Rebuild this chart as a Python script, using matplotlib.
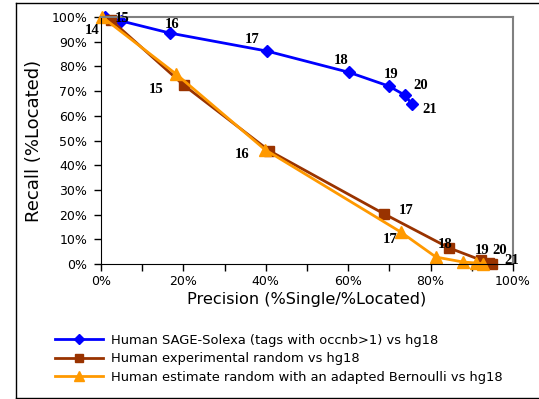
import matplotlib
matplotlib.use("Agg")
import matplotlib.pyplot as plt
from matplotlib.ticker import MultipleLocator, FuncFormatter
from matplotlib.lines import Line2D

# Data (percent)
labels = ["14", "15", "16", "17", "18", "19", "20", "21"]
sage_precision = [1.0, 4.9, 16.7, 40.3, 60.2, 69.9, 73.8, 75.5]
sage_recall = [100.0, 98.4, 93.5, 86.2, 77.6, 72.0, 68.3, 64.6]
exp_precision = [2.4, 20.1, 40.8, 68.7, 84.5, 92.2, 94.2, 95.0]
exp_recall = [98.8, 72.4, 45.9, 20.3, 6.5, 1.6, 0.4, 0.0]
bern_precision = [0.3, 18.3, 39.8, 72.7, 81.3, 87.9, 91.0, 92.7]
bern_recall = [100.0, 76.8, 46.3, 13.0, 2.8, 0.8, 0.4, 0.1]

series_names = [
    "Human SAGE-Solexa (tags with occnb>1) vs hg18",
    "Human experimental random vs hg18",
    "Human estimate random with an adapted Bernoulli vs hg18",
]

fig = plt.figure(figsize=(5.39, 3.99), dpi=100)
ax = fig.add_axes([101/539, 1-264/399, (513-101)/539, (264-17)/399])

ax.plot(sage_precision, sage_recall, color="#0000ff", lw=2, marker="D", ms=6,
        label=series_names[0], zorder=3)
ax.plot(exp_precision, exp_recall, color="#993300", lw=2, marker="s", ms=7,
        label=series_names[1], zorder=3)
ax.plot(bern_precision, bern_recall, color="#ff9900", lw=2, marker="^", ms=8,
        label=series_names[2], zorder=4)

lab_font = dict(family="Liberation Serif", weight="bold", fontsize=10.5)

# offsets in pixels (x right, y up)
sage_off = [(-13, -13), (1, 2), (2, 9), (-15, 12), (-8, 12), (2, 12), (16, 10), (18, -5)]
for i, lab in enumerate(labels):
    ax.annotate(lab, (sage_precision[i], sage_recall[i]), xytext=sage_off[i],
                textcoords="offset pixels", ha="center", va="center", zorder=6, **lab_font)

bern_lbls = {1: (-20, -15), 2: (-23, -5), 3: (-10, -8)}
for i, off in bern_lbls.items():
    ax.annotate(labels[i], (bern_precision[i], bern_recall[i]), xytext=off,
                textcoords="offset pixels", ha="center", va="center", zorder=6, **lab_font)

exp_lbls = {3: (22, 3), 4: (-4, 3), 5: (1, 10), 6: (11, 13), 7: (19, 4)}
for i, off in exp_lbls.items():
    ax.annotate(labels[i], (exp_precision[i], exp_recall[i]), xytext=off,
                textcoords="offset pixels", ha="center", va="center", zorder=6, **lab_font)

ax.set_xlim(0, 100)
ax.set_ylim(0, 100)
ax.xaxis.set_major_locator(MultipleLocator(20))
ax.xaxis.set_minor_locator(MultipleLocator(10))
ax.yaxis.set_major_locator(MultipleLocator(10))
pct = FuncFormatter(lambda v, p: f"{v:.0f}%")
ax.xaxis.set_major_formatter(pct)
ax.yaxis.set_major_formatter(pct)
ax.tick_params(which="both", direction="out", length=5, width=1, labelsize=9, color="black")
ax.tick_params(axis="y", pad=5)
ax.tick_params(axis="x", pad=3)

ax.spines["top"].set_color("#808080")
ax.spines["right"].set_color("#808080")
ax.spines["top"].set_linewidth(1.5)
ax.spines["right"].set_linewidth(1.5)
ax.spines["left"].set_color("black")
ax.spines["bottom"].set_color("black")

ax.set_xlabel("Precision (%Single/%Located)", fontsize=11.6, labelpad=3)
ax.set_ylabel("Recall (%Located)", fontsize=13, labelpad=6)
for sp in ax.spines.values():
    sp.set_zorder(5)
for l in ax.lines:
    l.set_clip_on(False)

fig.legend(loc="upper left", bbox_to_anchor=(55/539, 1-334/399), frameon=False,
           fontsize=9.35, handlelength=3.7, handletextpad=0.6, labelspacing=0.42,
           borderaxespad=0, borderpad=0, markerscale=0.85)

# outer frame: left, top, bottom edges
x0, y_top, y_bot = 15.5/539, 1-2.5/399, 1-397.5/399
fig.add_artist(Line2D([x0, 1.0], [y_top, y_top], transform=fig.transFigure, color="black", lw=1))
fig.add_artist(Line2D([x0, 1.0], [y_bot, y_bot], transform=fig.transFigure, color="black", lw=1))
fig.add_artist(Line2D([x0, x0], [y_bot, y_top], transform=fig.transFigure, color="black", lw=1))

fig.savefig("out.png", dpi=100)
